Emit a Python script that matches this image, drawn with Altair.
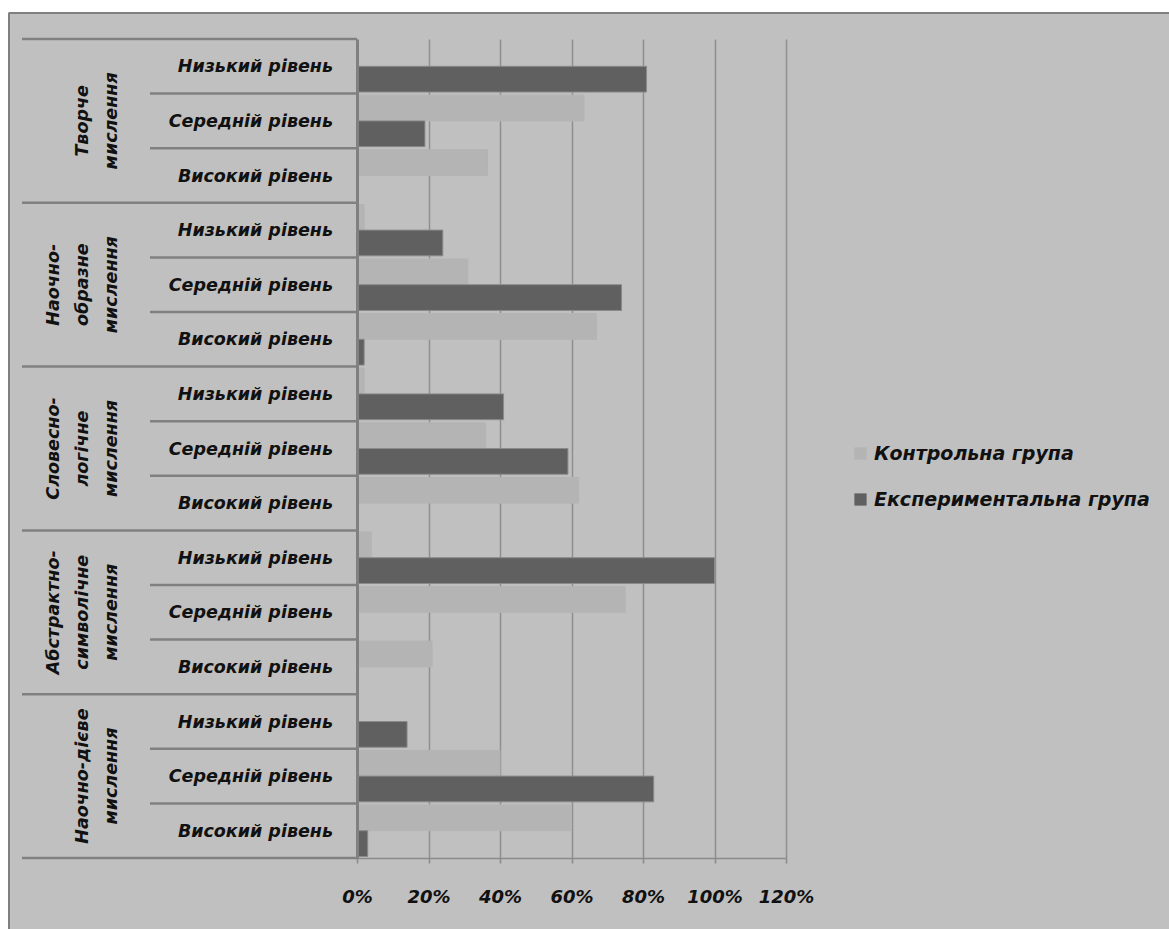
import altair as alt
import pandas as pd

# ---- data -------------------------------------------------------------
groups = [
    "Творче мислення",
    "Наочно-образне мислення",
    "Словесно-логічне мислення",
    "Абстрактно-символічне мислення",
    "Наочно-дієве мислення",
]
group_label_lines = [
    ["Творче", "мислення"],
    ["Наочно-", "образне", "мислення"],
    ["Словесно-", "логічне", "мислення"],
    ["Абстрактно-", "символічне", "мислення"],
    ["Наочно-дієве", "мислення"],
]
levels = ["Низький рівень", "Середній рівень", "Високий рівень"]
series = ["Контрольна група", "Експериментальна група"]

# percentages per group, in the order of `levels`
control = [
    [0, 63.5, 36.5],
    [2, 31, 67],
    [2, 36, 62],
    [4, 75, 21],
    [0, 40, 60],
]
experimental = [
    [81, 19, 0],
    [24, 74, 2],
    [41, 59, 0],
    [100, 0, 0],
    [14, 83, 3],
]
x_ticks = [0, 0.2, 0.4, 0.6, 0.8, 1.0, 1.2]

# ---- tables -----------------------------------------------------------
rows, bars, label_lines = [], [], []
for gi, g in enumerate(groups):
    for li, lv in enumerate(levels):
        key = f"{g} / {lv}"
        rows.append({"row": key, "group": g, "level": lv, "li": li,
                     "last": gi == len(groups) - 1 and li == len(levels) - 1})
        bars.append({"row": key, "series": series[0], "value": control[gi][li] / 100})
        bars.append({"row": key, "series": series[1], "value": experimental[gi][li] / 100})
    # rotated group caption sits on the middle row of its group
    mid = f"{g} / {levels[1]}"
    n = len(group_label_lines[gi])
    for k, line in enumerate(group_label_lines[gi]):
        label_lines.append({"row": mid, "line": line, "from_end": n - 1 - k})
row_order = [r["row"] for r in rows]
rows_df = pd.DataFrame(rows)
bars_df = pd.DataFrame(bars)
lines_df = pd.DataFrame(label_lines)
one = pd.DataFrame({"k": [0]})

# ---- layout -----------------------------------------------------------
CANVAS_W, CANVAS_H = 1169, 929
PAD_L, PAD_T = 357, 39
W, H = 429, 819
FONT = "DejaVu Sans"
FS = 17.5
LINE = "#808080"
TXT = "#111111"


def y_enc(**kw):
    return alt.Y(
        "row:N", sort=row_order, title=None,
        scale=alt.Scale(paddingInner=0, paddingOuter=0),
        axis=alt.Axis(labels=False, ticks=False, grid=False, domain=True,
                      domainColor=LINE, domainWidth=3, title=None, zindex=2),
        **kw,
    )


text_style = dict(font=FONT, fontSize=FS, fontStyle="italic", fontWeight="bold", color=TXT)

# white margin outside the chart frame, then the frame lines
top_strip = alt.Chart(one).mark_rect(color="white").encode(
    x=alt.value(-PAD_L), x2=alt.value(CANVAS_W - PAD_L),
    y=alt.value(-PAD_T), y2=alt.value(12 - PAD_T))
left_strip = alt.Chart(one).mark_rect(color="white").encode(
    x=alt.value(-PAD_L), x2=alt.value(8 - PAD_L),
    y=alt.value(-PAD_T), y2=alt.value(CANVAS_H - PAD_T))
frame_top = alt.Chart(one).mark_rule(color=LINE, strokeWidth=2).encode(
    x=alt.value(9 - PAD_L), x2=alt.value(CANVAS_W - PAD_L), y=alt.value(13 - PAD_T))
frame_left = alt.Chart(one).mark_rule(color=LINE, strokeWidth=2).encode(
    x=alt.value(9 - PAD_L), y=alt.value(13 - PAD_T), y2=alt.value(CANVAS_H - PAD_T))

bar_layer = alt.Chart(bars_df).transform_filter("datum.value > 0").mark_bar(
    strokeWidth=1
).encode(
    y=y_enc(),
    yOffset=alt.YOffset("series:N", sort=series,
                        scale=alt.Scale(paddingInner=0, paddingOuter=0.06)),
    x=alt.X("value:Q", title=None,
            scale=alt.Scale(domain=[0, 1.2], nice=False, zero=True),
            axis=alt.Axis(values=x_ticks, format=".0%", grid=True,
                          gridColor="#8f8f8f", gridWidth=1.5,
                          domainColor="#8a8a8a", domainWidth=1.5,
                          tickColor="#8a8a8a", tickSize=5, tickWidth=1.5,
                          labelFont=FONT, labelFontSize=18, labelFontStyle="italic",
                          labelFontWeight="bold", labelColor=TXT,
                          labelPadding=25, labelFlush=False, title=None)),
    color=alt.Color("series:N", sort=series,
                    scale=alt.Scale(domain=series, range=["#b4b4b4", "#606060"]),
                    legend=alt.Legend(orient="none", legendX=494, legendY=405,
                                      title=None, symbolType="square", symbolSize=150,
                                      symbolStrokeWidth=0, labelFont=FONT,
                                      labelFontSize=19, labelFontStyle="italic",
                                      labelFontWeight="bold", labelColor=TXT,
                                      labelLimit=0, labelOffset=4, rowPadding=26,
                                      padding=0)),
    stroke=alt.condition(f"datum.series === '{series[1]}'",
                         alt.value("#8a8a8a"), alt.value("#b4b4b4")),
)

level_text = alt.Chart(rows_df).mark_text(
    align="right", baseline="middle", dy=1, **text_style
).encode(y=y_enc(), x=alt.value(-24), text="level:N")

group_text = [
    alt.Chart(lines_df).transform_filter(f"datum.from_end === {k}").mark_text(
        align="center", baseline="middle", angle=270, **text_style
    ).encode(y=y_enc(), x=alt.value(-245 - 29 * k), text="line:N")
    for k in range(3)
]

group_lines = alt.Chart(rows_df).transform_filter("datum.li === 0").mark_rule(
    color=LINE, strokeWidth=2.5
).encode(y=y_enc(bandPosition=0), x=alt.value(-335), x2=alt.value(0))

level_lines = alt.Chart(rows_df).transform_filter("datum.li > 0").mark_rule(
    color=LINE, strokeWidth=2.5
).encode(y=y_enc(bandPosition=0), x=alt.value(-207), x2=alt.value(0))

bottom_line = alt.Chart(rows_df).transform_filter("datum.last").mark_rule(
    color=LINE, strokeWidth=2.5
).encode(y=y_enc(bandPosition=1), x=alt.value(-335), x2=alt.value(0))

chart = alt.layer(
    bar_layer, level_text, *group_text, group_lines, level_lines, bottom_line,
    top_strip, left_strip, frame_top, frame_left,
).properties(
    width=W, height=H,
    background="#c0c0c0",
    autosize=alt.AutoSizeParams(type="none"),
    padding={"left": PAD_L, "top": PAD_T,
             "right": CANVAS_W - PAD_L - W, "bottom": CANVAS_H - PAD_T - H},
).configure_view(strokeWidth=0)

chart.save("out.html", embed_options={"renderer": "svg", "actions": False})
